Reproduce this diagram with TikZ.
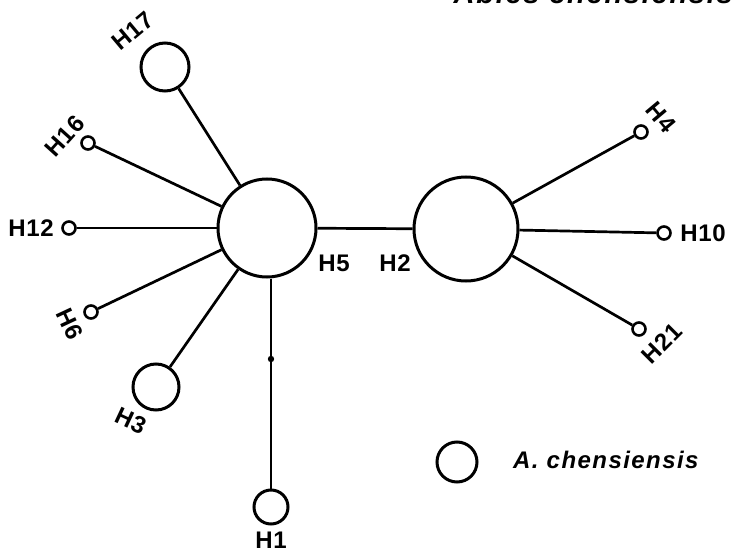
\documentclass[tikz,border=0pt]{standalone}
\usepackage{fontspec}
\setmainfont{Liberation Sans}
\begin{document}
\begin{tikzpicture}[x=1pt,y=-1pt,
  hap/.style={circle,draw=black,line width=3pt,fill=white,inner sep=0pt},
  tiny/.style={hap,line width=2.6pt,minimum size=13pt},
  lbl/.style={inner sep=0pt,font=\fontsize{24}{26}\selectfont\bfseries\addfontfeature{LetterSpace=3}},
  edge/.style={line width=2.7pt}]
\useasboundingbox (0,0) rectangle (737,554);
% title (clipped by page)
\node[anchor=base east,inner sep=0pt,font=\fontsize{29}{30}\selectfont\bfseries\itshape\addfontfeature{LetterSpace=6}] (title) at (733,4) {Abies chensiensis};
% hubs
\node[hap,minimum size=98pt] (H5) at (267,228) {};
\node[hap,minimum size=104pt] (H2) at (466,229) {};
% larger haplotypes
\node[hap,minimum size=48pt] (H17) at (165,67) {};
\node[hap,minimum size=46pt] (H3) at (156,387) {};
\node[hap,minimum size=34pt] (H1) at (271,507) {};
% small haplotypes
\node[tiny] (H16) at (88,143) {};
\node[tiny] (H12) at (69,228) {};
\node[tiny] (H6) at (91,312) {};
\node[tiny] (H4) at (641,132) {};
\node[tiny] (H10) at (664,233) {};
\node[tiny] (H21) at (639,329) {};
% connectors
\draw[edge] (H5) -- (H2);
\draw[edge] (H17) -- (H5);
\draw[edge] (H16) -- (H5);
\draw[edge] (H12) -- (H5);
\draw[edge] (H6) -- (H5);
\draw[edge] (H3) -- (H5);
\draw[edge] (H1.north) -- (H1.north |- H5.south);
\coordinate (m1) at (271,359);
\fill (m1) circle (3.2pt);
\draw[edge] (H2) -- (H4);
\draw[edge] (H2) -- (H10);
\draw[edge] (H2) -- (H21);
% labels
\node[lbl,rotate=40] (lH17) at (133,31) {H17};
\node[lbl,rotate=48] (lH16) at (65,136) {H16};
\node[lbl] (lH12) at (31,228) {H12};
\node[lbl,rotate=-65] (lH6) at (70,324) {H6};
\node[lbl,rotate=-25] (lH3) at (131,421) {H3};
\node[lbl] (lH1) at (271,540) {H1};
\node[lbl] (lH5) at (334,263) {H5};
\node[lbl] (lH2) at (395,263) {H2};
\node[lbl,rotate=-50] (lH4) at (661,117) {H4};
\node[lbl] (lH10) at (703,233) {H10};
\node[lbl,rotate=45] (lH21) at (662,343) {H21};
% legend
\node[hap,minimum size=40pt] (leg) at (457,462) {};
\node[anchor=west,inner sep=0pt,font=\fontsize{24}{26}\selectfont\bfseries\itshape\addfontfeature{LetterSpace=6}] (legtxt) at (513,460) {A. chensiensis};
\end{tikzpicture}
\end{document}
